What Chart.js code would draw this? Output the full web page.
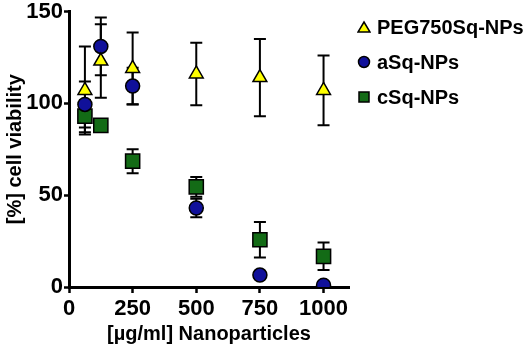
<!DOCTYPE html>
<html>
<head>
<meta charset="utf-8">
<script src="https://cdn.jsdelivr.net/npm/chart.js@4/dist/chart.umd.min.js"></script>
<style>
    html, body { margin: 0; padding: 0; background: #fff; }
    #wrap { position: relative; width: 532px; height: 350px; }
    #legend { position: absolute; left: 357px; top: 14px; font: bold 20px "Liberation Sans", Arial, Helvetica, sans-serif; color: #000; }
    .lg-item { display: flex; align-items: center; height: 26px; margin-bottom: 9px; white-space: nowrap; }
    .lg-item svg { width: 14px; height: 14px; margin-right: 6px; flex: none; }
</style>
</head>
<body>
<div id="wrap">
    <canvas id="viabilityChart" width="532" height="350"></canvas>
    <div id="legend"></div>
</div>
<script>
// --- Data ---
const concentrations = [62.5, 125, 250, 500, 750, 1000];

const pegMean = [107, 123, 119, 116, 114, 107];
const pegSd   = [24, 20, 19.5, 17, 21, 19];

const aSqMean = [99.4, 131, 109.4, 43, 6.5, 1];
const aSqSd   = [12.5, 15.7, 10, 5, 0, 0];

const cSqMean = [93, 88, 68.5, 54.5, 25.7, 16.7];
const cSqSd   = [8.7, 0, 6.5, 5.4, 9.7, 7.5];

const xTicks = [0, 250, 500, 750, 1000];
const yTicks = [0, 50, 100, 150];

const FONT = '"Liberation Sans", Arial, Helvetica, sans-serif';

function toPoints(means) {
    return concentrations.map((x, i) => ({ x: x, y: means[i] }));
}

// Draws mean +/- SD whiskers behind the markers
const errorBarPlugin = {
    id: 'errorBars',
    beforeDatasetsDraw(chart) {
        const ctx = chart.ctx;
        const xs = chart.scales.x, ys = chart.scales.y;
        const cap = 6;
        ctx.save();
        ctx.strokeStyle = '#000';
        ctx.lineWidth = 2;
        chart.data.datasets.forEach(ds => {
            if (!ds.sd) return;
            ds.data.forEach((p, i) => {
                const s = ds.sd[i];
                if (!s) return;
                const px = xs.getPixelForValue(p.x);
                const top = ys.getPixelForValue(p.y + s);
                const bot = ys.getPixelForValue(p.y - s);
                ctx.beginPath();
                ctx.moveTo(px, top); ctx.lineTo(px, bot);
                ctx.moveTo(px - cap, top); ctx.lineTo(px + cap, top);
                ctx.moveTo(px - cap, bot); ctx.lineTo(px + cap, bot);
                ctx.stroke();
            });
        });
        ctx.restore();
    }
};

// HTML legend (the built-in one is capped at a quarter of the canvas width)
function markerSvg(style, color) {
    let shape;
    if (style === 'triangle') shape = `<polygon points="7,2 13,12 1,12" fill="${color}" stroke="#000" stroke-width="1.5"/>`;
    else if (style === 'circle') shape = `<circle cx="7" cy="7" r="5.5" fill="${color}" stroke="#000" stroke-width="1.5"/>`;
    else shape = `<rect x="2" y="2" width="10" height="10" fill="${color}" stroke="#000" stroke-width="1.5"/>`;
    return `<svg viewBox="0 0 14 14">${shape}</svg>`;
}

function buildLegend(chart) {
    const box = document.getElementById('legend');
    box.innerHTML = '';
    chart.data.datasets.forEach(ds => {
        const d = document.createElement('div');
        d.className = 'lg-item';
        d.innerHTML = `${markerSvg(ds.pointStyle, ds.backgroundColor)}<span>${ds.label}</span>`;
        box.appendChild(d);
    });
}

const chart = new Chart(document.getElementById('viabilityChart'), {
    type: 'scatter',
    data: {
        datasets: [
            { label: 'PEG750Sq-NPs', data: toPoints(pegMean), sd: pegSd,
              pointStyle: 'triangle', pointRadius: 8, backgroundColor: '#ffff00' },
            { label: 'aSq-NPs', data: toPoints(aSqMean), sd: aSqSd,
              pointStyle: 'circle', pointRadius: 7, backgroundColor: '#10109a' },
            { label: 'cSq-NPs', data: toPoints(cSqMean), sd: cSqSd,
              pointStyle: 'rect', pointRadius: 10, backgroundColor: '#136b16' }
        ].map(d => Object.assign(d, {
            borderColor: '#000', borderWidth: 1.5,
            pointHoverRadius: d.pointRadius, showLine: false
        }))
    },
    options: {
        responsive: false,
        animation: false,
        layout: { padding: { top: 9, right: 183, left: 0, bottom: 0 } },
        plugins: {
            tooltip: { enabled: false },
            legend: { display: false }
        },
        scales: {
            x: {
                type: 'linear', min: 0, max: 1100,
                afterFit: s => { s.height = 63; s.paddingRight = 0; },
                afterBuildTicks: s => { s.ticks = xTicks.map(v => ({ value: v })); },
                grid: { drawOnChartArea: false, tickLength: 6, tickWidth: 2.5, tickColor: '#000' },
                border: { color: '#000', width: 3 },
                ticks: {
                    padding: 3, color: '#000', callback: v => String(v),
                    font: { family: FONT, size: 22, weight: 'bold' }
                },
                title: {
                    display: true, text: '[µg/ml] Nanoparticles', color: '#000',
                    padding: { top: 0, bottom: 4 },
                    font: { family: FONT, size: 20, weight: 'bold' }
                }
            },
            y: {
                type: 'linear', min: 0, max: 150,
                afterFit: s => { s.width = 69; s.paddingTop = 0; },
                afterBuildTicks: s => { s.ticks = yTicks.map(v => ({ value: v })); },
                grid: { drawOnChartArea: false, tickLength: 5, tickWidth: 2.5, tickColor: '#000' },
                border: { color: '#000', width: 3 },
                ticks: { padding: 1, color: '#000', font: { family: FONT, size: 22, weight: 'bold' } },
                title: {
                    display: true, text: '[%] cell viability', color: '#000',
                    padding: { top: 3, bottom: 0 },
                    font: { family: FONT, size: 20, weight: 'bold' }
                }
            }
        }
    },
    plugins: [errorBarPlugin]
});

buildLegend(chart);
</script>
</body>
</html>
